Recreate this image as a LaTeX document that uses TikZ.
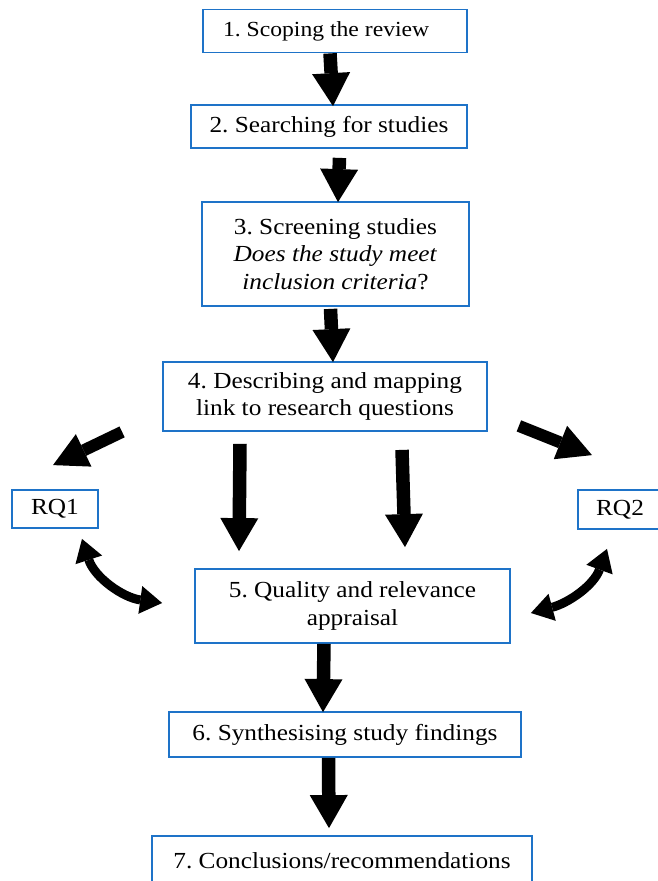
\documentclass[tikz,border=0pt]{standalone}
\usepackage{fontspec}
\setmainfont{Liberation Serif}[FakeStretch=1.1]
\usetikzlibrary{arrows.meta}
\definecolor{boxblue}{RGB}{30,115,200}
\frenchspacing
\begin{document}
\begin{tikzpicture}[x=1pt,y=-1pt,
  box/.style={draw=boxblue,line width=1.8pt,fill=white,inner sep=0pt,align=center,
    font=\fontsize{23}{27.5}\selectfont},
  blk/.style={line width=13.5pt,-{Triangle[width=38pt,length=33pt,line width=0pt]}},
  dia/.style={line width=12pt,-{Triangle[width=36pt,length=34pt,line width=0pt]}},
  dbl/.style={line width=9pt,{Triangle[width=28pt,length=22pt,line width=0pt]}-{Triangle[width=28pt,length=22pt,line width=0pt]}}]
\useasboundingbox (0,0) rectangle (657,881);
\node[box,minimum width=264pt,minimum height=43pt,text width=224pt,align=flush left,font=\fontsize{21.5}{26}\selectfont] (b1) at (335,31) {\mbox{1. Scoping the review}};
\node[box,minimum width=276pt,minimum height=43pt] (b2) at (329,126.5) {2. Searching for studies};
\node[box,minimum width=267pt,minimum height=104pt] (b3) at (335.5,254) {3. Screening studies\\\textit{Does the study meet}\\\textit{inclusion criteria}?};
\node[box,minimum width=324pt,minimum height=69pt] (b4) at (325,396.5) {4. Describing and mapping\\link to research questions};
\node[box,minimum width=86pt,minimum height=38pt] (rq1) at (55,509) {RQ1};
\node[box,minimum width=84pt,minimum height=39pt] (rq2) at (620,509.5) {RQ2};
\node[box,minimum width=315pt,minimum height=74pt] (b5) at (352.5,606) {5. Quality and relevance\\appraisal};
\node[box,minimum width=352pt,minimum height=45pt] (b6) at (345,734.5) {6. Synthesising study findings};
\node[box,minimum width=380pt,minimum height=50pt,text depth=0pt] (b7) at (342,861) {7. Conclusions/recommendations};
% straight block arrows
\draw[blk] ([xshift=-5pt]b1.south) -- ([xshift=4pt,yshift=-2pt]b2.north);
\draw[blk] ([xshift=10.5pt,yshift=-9pt]b2.south) -- ([xshift=2.5pt,yshift=-1pt]b3.north);
\draw[blk] ([xshift=-5pt,yshift=-2pt]b3.south) -- ([xshift=8pt,yshift=-1pt]b4.north);
\draw[blk] ([xshift=-85pt,yshift=-12pt]b4.south) -- ([xshift=-113.5pt,yshift=17pt]b5.north);
\draw[blk] ([xshift=77pt,yshift=-18pt]b4.south) -- ([xshift=52.5pt,yshift=21pt]b5.north);
\draw[blk] ([xshift=-28.5pt]b5.south) -- ([xshift=-22pt,yshift=-1pt]b6.north);
\draw[blk] ([xshift=-16.5pt]b6.south) -- ([xshift=-13pt,yshift=7pt]b7.north);
% diagonal arrows
\draw[dia] ([xshift=-40pt]b4.south west) -- ([xshift=-2pt,yshift=24pt]rq1.north);
\draw[dia] ([xshift=31pt,yshift=6pt]b4.south east) -- ([xshift=-28pt,yshift=34pt]rq2.north);
% curved double arrows
\draw[dbl] ([xshift=27pt,yshift=-10pt]rq1.south) to[out=-72,in=172] ([xshift=-32pt,yshift=3pt]b5.west);
\draw[dbl] ([xshift=-13pt,yshift=-19pt]rq2.south) to[out=-110,in=15] ([xshift=20pt,yshift=-7pt]b5.east);
\end{tikzpicture}
\end{document}
